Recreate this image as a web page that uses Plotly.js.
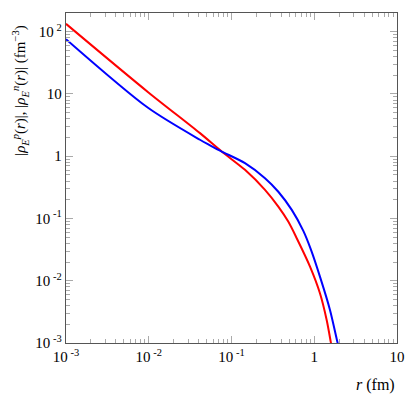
<!DOCTYPE html>
<html>
<head>
<meta charset="utf-8">
<script src="https://cdn.plot.ly/plotly-3.0.1.min.js"></script>
<style>
  html, body { margin: 0; padding: 0; background: #fff; }
  #chart { width: 409px; height: 397px; }
</style>
</head>
<body>
<div id="chart"></div>
<script>
// proton charge density |rho_E^p(r)| (blue)
const r_p   = [0.001, 0.0098, 0.0416, 0.055, 0.0762, 0.1455, 0.254, 0.368, 0.535, 0.738, 0.914, 1.172, 1.549, 1.901, 2.02];
const rho_p = [76, 6.0, 1.84, 1.50, 1.19, 0.774, 0.444, 0.269, 0.1374, 0.0632, 0.0313, 0.01164, 0.0034, 0.00105, 0.00076];

// neutron charge density |rho_E^n(r)| (red)
const r_n   = [0.001, 0.01, 0.0416, 0.0762, 0.1455, 0.254, 0.368, 0.485, 0.614, 0.889, 1.172, 1.413, 1.581, 1.65];
const rho_n = [134, 10.5, 2.35, 1.19, 0.604, 0.288, 0.155, 0.0891, 0.0482, 0.01687, 0.0063, 0.002344, 0.00105, 0.00076];

// tick labels
const x_ticks = [0.001, 0.01, 0.1, 1, 10];
const x_labels = ['10<sup> -3</sup>', '10<sup> -2</sup>', '10<sup> -1</sup>', '1', '10'];
const y_ticks = [0.001, 0.01, 0.1, 1, 10, 100];
const y_labels = ['10<sup> -3</sup>', '10<sup> -2</sup>', '10<sup> -1</sup>', '1', '10', '10<sup> 2</sup>'];

// axis ranges (decades)
const x_range = [-3, 1];
const y_range = [-3, Math.log10(200)];

// minor ticks 2..9 in every decade
const minor_ticks = [];
for (let e = -3; e <= 2; ++e)
    for (let m = 2; m <= 9; ++m)
        minor_ticks.push(m * Math.pow(10, e));

const font = { family: 'Liberation Serif', size: 15, color: '#000' };
const font_title = { family: 'Liberation Serif', size: 15, color: '#000' };

const data = [
    { x: r_n, y: rho_n, type: 'scatter', mode: 'lines', line: { color: '#ff0000', width: 2, shape: 'spline', smoothing: 0.8 } },
    { x: r_p, y: rho_p, type: 'scatter', mode: 'lines', line: { color: '#0000ff', width: 2, shape: 'spline', smoothing: 0.8 } },
    // empty trace so the minor-tick axes get drawn
    { x: [], y: [], type: 'scatter', mode: 'lines', xaxis: 'x2', yaxis: 'y2', hoverinfo: 'skip' }
];

const axis_common = {
    type: 'log',
    showgrid: false,
    zeroline: false,
    showline: true,
    linecolor: '#555',
    linewidth: 1.3,
    mirror: 'allticks',
    ticks: 'inside',
    ticklen: 7,
    tickcolor: '#aaa',
    tickwidth: 1,
    tickfont: font
};

const minor_common = {
    type: 'log',
    showgrid: false,
    zeroline: false,
    showline: false,
    mirror: 'allticks',
    ticks: 'inside',
    ticklen: 4,
    tickcolor: '#aaa',
    tickwidth: 1,
    showticklabels: false,
    tickmode: 'array',
    tickvals: minor_ticks
};

const layout = {
    width: 409,
    height: 397,
    margin: { l: 66, r: 12, t: 13, b: 54 },
    paper_bgcolor: '#fff',
    plot_bgcolor: '#fff',
    showlegend: false,
    font: font,
    xaxis: Object.assign({}, axis_common, { range: x_range, tickmode: 'array', tickvals: x_ticks, ticktext: x_labels }),
    yaxis: Object.assign({}, axis_common, { range: y_range, tickmode: 'array', tickvals: y_ticks, ticktext: y_labels }),
    xaxis2: Object.assign({}, minor_common, { range: x_range, overlaying: 'x', anchor: 'y2', side: 'bottom' }),
    yaxis2: Object.assign({}, minor_common, { range: y_range, overlaying: 'y', anchor: 'x2', side: 'left' }),
    annotations: [
        {
            text: '|<i>ρ</i><sub><i>E</i></sub><sup><i>p</i></sup>(<i>r</i>)|, |<i>ρ</i><sub><i>E</i></sub><sup><i>n</i></sup>(<i>r</i>)| (fm<sup>−3</sup>)',
            xref: 'paper', yref: 'paper',
            x: -0.139, y: 0.767,
            xanchor: 'center', yanchor: 'middle',
            textangle: -90,
            showarrow: false,
            font: font_title
        },
        {
            text: '<i>r</i> (fm)',
            xref: 'paper', yref: 'paper',
            x: 1.0, y: -0.127,
            xanchor: 'right', yanchor: 'middle',
            showarrow: false,
            font: { family: 'Liberation Serif', size: 16, color: '#000' }
        }
    ]
};

Plotly.newPlot('chart', data, layout, { staticPlot: true });
</script>
</body>
</html>
